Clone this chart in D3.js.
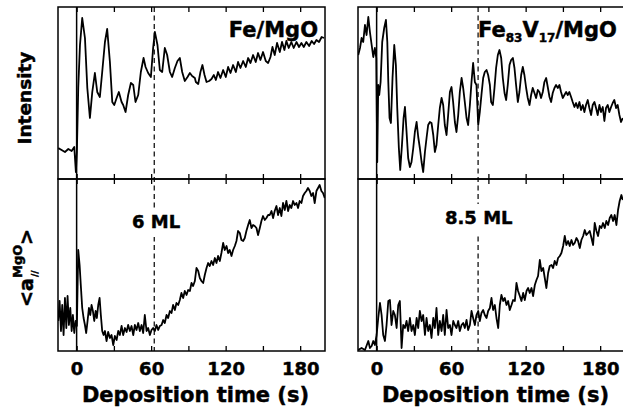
<!DOCTYPE html>
<html>
<head>
<meta charset="utf-8">
<script src="https://cdn.jsdelivr.net/npm/d3@7"></script>
<style>
body { margin: 0; background: #fff; }
text { font-family: "DejaVu Sans", sans-serif; font-weight: bold; fill: #000; stroke: #000; stroke-width: 0.45px; }
</style>
</head>
<body>
<script>
// RHEED data: [time (s), value (a.u.)]
var feIntensity = [[-14.8,31],[-12.1,29],[-9.4,27],[-6.7,30],[-4.0,28],[-1.9,32],[-0.6,7],[0.2,27],[1.3,91],[2.7,134],
  [4.5,161],[6.7,141],[8.6,91],[10.7,61],[12.6,87],[14.7,106],[16.6,87],[18.7,82],[20.6,107],[22.8,137],
  [24.6,150],[26.8,117],[28.7,77],[30.3,74],[32.2,81],[34.0,87],[36.2,77],[37.5,74],[39.4,67],[41.5,84],
  [43.7,96],[45.6,94],[47.4,77],[49.6,84],[51.7,107],[53.9,121],[55.5,112],[57.6,106],[59.8,102],[61.6,131],
  [63.0,147],[65.1,134],[67.0,109],[68.9,107],[71.0,131],[72.9,124],[75.1,107],[76.9,102],[79.1,111],[81.2,118],
  [83.1,121],[85.0,107],[87.1,98],[89.3,102],[91.2,106],[93.0,103],[95.2,101],
  [96.0,97],[97.9,95],[99.7,107],[101.3,114],[103.0,104],[104.6,97],[106.7,98],[108.6,100],[110.5,104],[112.1,99],
  [113.9,107],[115.8,101],[118.0,109],[120.1,102],[122.0,112],[123.9,106],[126.0,114],[128.2,107],[130.0,117],[131.9,111],
  [134.1,118],[136.2,112],[138.1,121],[140.0,116],[142.1,124],[144.2,117],[146.1,126],[148.0,119],[150.1,127],[152.3,118],
  [154.2,116],[156.1,122],[157.7,132],[159.5,124],[161.4,136],[163.6,127],[165.4,137],[167.3,129],[168.9,138],[170.8,131],
  [172.9,137],[174.8,131],[177.0,137],[179.1,132],[181.0,136],[182.9,132],[185.0,137],[187.2,133],[189.3,138],[191.2,135],
  [193.1,139],[195.2,137],[197.3,142],[199.2,141]];

var feLattice = [[-14.8,30],[-13.7,50],[-12.6,20],[-11.6,46],[-10.5,16],[-9.4,53],[-8.3,23],[-7.3,55],[-6.2,26],[-5.1,43],
  [-4.0,20],[-3.0,36],[-1.9,18],[-0.8,30],[0.2,25],[1.3,101],[2.4,86],[3.5,63],[4.5,43],[5.6,33],
  [6.7,26],[7.7,18],[8.8,30],[9.9,43],[11.0,36],[12.0,46],[13.1,40],[14.2,30],[15.3,40],[16.3,33],
  [17.4,46],[18.5,53],[19.5,36],[20.6,20],[21.7,16],[22.8,20],[24.1,10],[25.4,19],[26.8,13],[28.1,16],
  [29.5,6],[30.8,15],[32.2,11],[33.5,20],[34.8,16],[36.2,25],[37.5,16],[38.9,23],[40.2,19],[41.5,26],
  [42.9,20],[44.2,25],[45.6,16],[46.9,26],[48.2,21],[49.6,28],[50.9,20],[52.3,26],[53.6,18],[54.9,36],
  [56.3,20],[57.6,23],[59.0,16],[60.3,21],[61.6,23],[63.0,20],[64.3,26],[65.7,21],[67.0,25],[68.4,26],
  [69.7,31],[71.0,28],[72.4,36],[73.7,33],[75.1,40],[76.4,38],[77.7,46],[79.1,41],[80.4,48],[81.8,46],
  [83.1,51],[84.4,58],[85.8,53],[87.1,60],[88.5,56],[89.8,61],[91.2,60],[92.5,68],[93.8,65],[95.2,70],
  [96.5,83],[97.9,80],[99.2,73],[100.5,70],[101.9,68],[103.2,76],[104.6,83],[105.9,88],[107.2,85],[108.6,90],
  [109.9,86],[111.3,93],[112.6,88],[113.9,95],[115.3,90],[116.6,98],[118.0,108],[119.3,101],[120.7,105],[122.0,98],
  [123.3,101],[124.7,95],[126.0,101],[127.4,105],[128.7,110],[130.0,120],[131.4,118],[132.7,111],[134.1,110],[135.4,113],
  [136.7,120],[138.1,126],[139.4,131],[140.8,123],[142.1,126],[143.4,125],[144.8,123],[146.1,116],[147.5,123],[148.8,130],
  [150.1,135],[151.5,131],[152.8,133],[154.2,136],[155.5,136],[156.9,140],[158.2,133],[159.5,140],[160.9,145],[162.2,136],
  [163.6,143],[164.9,135],[166.2,148],[167.6,141],[168.9,150],[170.3,140],[171.6,146],[172.9,143],[174.3,150],[175.6,146],
  [177.0,148],[178.3,143],[179.6,150],[181.0,148],[182.3,155],[183.7,158],[185.0,160],[186.3,163],[187.7,160],[189.0,155],
  [190.4,158],[191.7,148],[193.1,160],[194.4,163],[195.7,166],[197.1,160],[198.4,158],[199.8,153]];

var fevIntensity = [[-14.8,124],[-13.4,131],[-12.1,141],[-10.8,137],[-9.4,154],[-8.1,144],[-6.7,162],[-5.4,147],[-4.0,134],[-2.7,122],
  [-1.4,131],[-0.3,121],[0.5,17],[1.3,94],[2.1,84],[3.2,97],[4.5,137],[6.1,151],[7.5,159],[8.6,137],
  [9.4,97],[10.4,61],[11.5,56],[12.8,101],[14.2,134],[15.5,114],[16.6,71],[17.9,31],[19.0,9],[20.4,34],
  [21.7,61],[22.8,72],[24.1,47],[25.4,21],[26.8,12],[28.1,17],[29.5,31],[30.8,47],[32.2,57],[33.5,42],
  [34.8,31],[36.2,17],[37.5,7],[38.9,27],[40.2,41],[41.5,54],[42.9,57],[44.2,56],[45.6,44],[46.9,27],
  [48.2,34],[49.6,54],[50.9,71],[52.3,81],[53.6,74],[54.9,54],[56.3,44],[57.6,64],[59.0,87],[60.3,92],
  [61.6,77],[63.0,57],[64.3,47],[65.7,64],[67.0,87],[68.4,101],[69.7,91],[71.0,77],[72.4,61],[73.7,54],
  [75.1,74],[76.4,97],[77.7,116],[79.1,97],[80.4,94],[81.8,54],[83.1,67],[84.4,84],[85.8,101],[87.1,107],
  [88.5,109],[89.8,104],[91.2,94],[92.2,77],[93.6,74],[94.9,91],[96.2,111],[97.6,124],[98.9,129],[100.3,121],
  [101.6,101],[103.0,86],[104.3,79],[105.6,94],[107.0,114],[108.3,119],[109.7,121],[111.0,111],[112.3,94],[113.7,77],
  [115.0,87],[116.4,104],[117.7,112],[119.0,104],[120.4,91],[121.7,81],[123.1,74],[124.4,84],[125.7,91],[127.1,86],
  [128.4,81],[129.8,89],[131.1,87],[132.4,81],[133.8,87],[135.1,97],[136.5,101],[137.8,92],[139.2,82],[140.5,77],
  [141.8,86],[143.2,91],[144.5,94],[145.9,91],[147.2,94],[148.5,87],[149.9,81],[151.2,84],[152.6,87],[153.9,84],
  [155.2,87],[156.6,82],[157.9,77],[159.3,72],[160.6,76],[161.9,71],[163.3,77],[164.6,69],[166.0,74],[167.3,67],
  [168.6,74],[170.0,79],[171.3,71],[172.7,64],[174.0,74],[175.4,77],[176.7,71],[178.0,64],[179.4,74],[180.7,67],
  [182.1,72],[183.4,58],[184.7,71],[186.1,74],[187.4,67],[188.8,72],[190.1,76],[191.4,79],[192.8,71],[194.1,74],
  [195.5,64],[196.8,57],[198.2,61]];

var fevLattice = [[-14.8,1],[-12.1,3],[-9.4,1],[-6.7,10],[-5.4,3],[-4.0,5],[-2.7,10],[-1.4,6],[0.0,16],[1.3,33],
  [2.7,48],[4.0,36],[5.3,16],[6.7,10],[8.0,26],[9.4,50],[10.7,51],[12.0,26],[13.4,40],[14.7,36],
  [16.1,23],[17.4,46],[18.7,50],[20.1,3],[21.4,26],[22.8,23],[24.1,30],[25.4,20],[26.8,33],[28.1,20],
  [29.5,26],[30.8,16],[32.2,33],[33.5,23],[34.8,40],[36.2,30],[37.5,36],[38.9,16],[40.2,33],[41.5,20],
  [42.9,26],[44.2,13],[45.6,33],[46.9,23],[48.2,43],[49.6,16],[50.9,30],[52.3,20],[53.6,36],[54.9,16],
  [56.3,41],[57.6,23],[59.0,26],[60.3,16],[61.7,30],[63.0,26],[64.3,23],[65.7,30],[67.0,20],[68.4,26],
  [69.7,28],[71.0,23],[72.4,31],[73.7,21],[75.1,26],[76.4,40],[77.7,33],[79.1,26],[80.4,36],[81.8,40],
  [83.1,30],[84.4,38],[85.8,41],[87.1,36],[88.5,33],[89.8,40],[91.2,43],[92.5,53],[93.8,41],[95.2,46],
  [96.5,33],[97.9,23],[99.2,46],[100.5,56],[101.9,50],[103.2,53],[104.6,46],[105.9,50],[107.2,41],[108.6,46],
  [109.9,51],[111.3,50],[112.6,68],[113.9,60],[115.3,55],[116.6,50],[118.0,58],[119.3,51],[120.7,60],[122.0,63],
  [123.3,58],[124.7,63],[126.0,55],[127.4,66],[128.7,71],[130.0,75],[131.4,91],[132.7,80],[134.1,83],[135.4,73],
  [136.7,63],[138.1,78],[139.4,85],[140.8,86],[142.1,83],[143.4,90],[144.8,86],[146.1,93],[147.5,95],[148.8,98],
  [150.2,105],[151.5,115],[152.8,106],[154.2,110],[155.5,105],[156.9,111],[158.2,106],[159.5,108],[160.9,113],[162.2,110],
  [163.6,103],[164.9,111],[166.3,115],[167.6,121],[168.9,116],[170.3,118],[171.6,120],[173.0,113],[174.3,106],[175.6,128],
  [177.0,120],[178.3,115],[179.7,125],[181.0,123],[182.3,128],[183.7,123],[185.0,130],[186.4,126],[187.7,133],[189.0,136],
  [190.4,130],[191.7,136],[193.1,126],[194.4,141],[195.7,150],[197.1,156],[198.2,151]];

var timeDomain = [-15, 200];
var valueDomain = [0, 172];
var allTicks = [0, 30, 60, 90, 120, 150, 180];
var majorTicks = [0, 60, 120, 180];
var mlTimes = [62.5, 81.7];
var mlLabels = ["6 ML", "8.5 ML"];
var xTitle = "Deposition time (s)";

var svg = d3.select("body").append("svg")
            .attr("width", 623)
            .attr("height", 413);

var cols = [{x0: 58, x1: 325}, {x0: 358, x1: 625}];
var rows = [{y0: 7, y1: 179}, {y0: 179, y1: 351}];
var curves = [[feIntensity, feLattice], [fevIntensity, fevLattice]];
var labelPos = [{x: 132, y: 228}, {x: 445, y: 224}];

cols.forEach(function(c, ci) {
  var x = d3.scaleLinear().domain(timeDomain).range([c.x0, c.x1]);

  rows.forEach(function(r, ri) {
    var y = d3.scaleLinear().domain(valueDomain).range([r.y1, r.y0]);
    var id = "clip" + ci + ri;

    svg.append("clipPath").attr("id", id)
       .append("rect")
       .attr("x", c.x0).attr("y", r.y0)
       .attr("width", c.x1 - c.x0).attr("height", r.y1 - r.y0);

    // ticks on top and bottom edges, pointing inward
    var topAxis = svg.append("g")
       .attr("transform", "translate(0," + r.y0 + ")")
       .call(d3.axisTop(x).tickValues(allTicks).tickSize(-5).tickFormat(""));
    topAxis.select(".domain").remove();

    var botAxis = svg.append("g")
       .attr("transform", "translate(0," + r.y1 + ")")
       .call(d3.axisBottom(x).tickValues(allTicks).tickSize(-5).tickPadding(11)
               .tickFormat(function(d) { return (ri == 1 && majorTicks.indexOf(d) >= 0) ? d : ""; }));
    botAxis.select(".domain").remove();
    botAxis.selectAll("line").attr("stroke-width", 1.3);
    topAxis.selectAll("line").attr("stroke-width", 1.3);
    botAxis.selectAll("text").style("font-size", "18px");

    svg.append("path")
       .datum(curves[ci][ri])
       .attr("clip-path", "url(#" + id + ")")
       .attr("fill", "none")
       .attr("stroke", "#000")
       .attr("stroke-width", 1.8)
       .attr("stroke-linejoin", "round")
       .attr("d", d3.line().x(d => x(d[0])).y(d => y(d[1])));

    svg.append("rect")
       .attr("x", c.x0).attr("y", r.y0)
       .attr("width", c.x1 - c.x0).attr("height", r.y1 - r.y0)
       .attr("fill", "none").attr("stroke", "#000").attr("stroke-width", 1.5);
  });

  // t = 0 line and the ML marker
  svg.append("line")
     .attr("x1", x(0)).attr("x2", x(0))
     .attr("y1", rows[0].y0).attr("y2", rows[1].y1)
     .attr("stroke", "#000").attr("stroke-width", 1.5);

  svg.append("line")
     .attr("x1", x(mlTimes[ci])).attr("x2", x(mlTimes[ci]))
     .attr("y1", rows[0].y0).attr("y2", rows[1].y1)
     .attr("stroke", "#000").attr("stroke-width", 1.2)
     .attr("stroke-dasharray", "5,3.5");

  var lab = svg.append("text")
     .attr("x", labelPos[ci].x).attr("y", labelPos[ci].y)
     .style("font-size", "18px")
     .text(mlLabels[ci]);
  var bb = lab.node().getBBox();
  svg.insert("rect", function() { return lab.node(); })
     .attr("x", bb.x - 2).attr("y", bb.y - 3)
     .attr("width", bb.width + 4).attr("height", bb.height + 8)
     .attr("fill", "#fff");

  svg.append("text")
     .attr("x", (c.x0 + c.x1) / 2 + 4).attr("y", 402)
     .attr("text-anchor", "middle")
     .style("font-size", "21px")
     .text(xTitle);
});

// sample names
svg.append("text")
   .attr("x", 318).attr("y", 37)
   .attr("text-anchor", "end")
   .style("font-size", "21px")
   .text("Fe/MgO");

var fev = svg.append("text")
   .attr("x", 478).attr("y", 37)
   .style("font-size", "21px");
fev.append("tspan").text("Fe");
fev.append("tspan").attr("dy", 5).style("font-size", "12px").text("83");
fev.append("tspan").attr("dy", -5).text("V");
fev.append("tspan").attr("dy", 5).style("font-size", "12px").text("17");
fev.append("tspan").attr("dy", -5).text("/MgO");

// y titles
svg.append("text")
   .attr("transform", "translate(31,98) rotate(-90)")
   .attr("text-anchor", "middle")
   .style("font-size", "18.5px")
   .text("Intensity");

var yl = svg.append("g").attr("transform", "translate(33,307) rotate(-90)");
yl.append("text").attr("x", 0).attr("y", 0).style("font-size", "19px").text("<a");
yl.append("text").attr("x", 29).attr("y", -11).style("font-size", "13px").text("MgO");
yl.append("text").attr("x", 30).attr("y", 5).style("font-size", "9px").text("//");
yl.append("text").attr("x", 62).attr("y", 0).style("font-size", "19px").text(">");
</script>
</body>
</html>
